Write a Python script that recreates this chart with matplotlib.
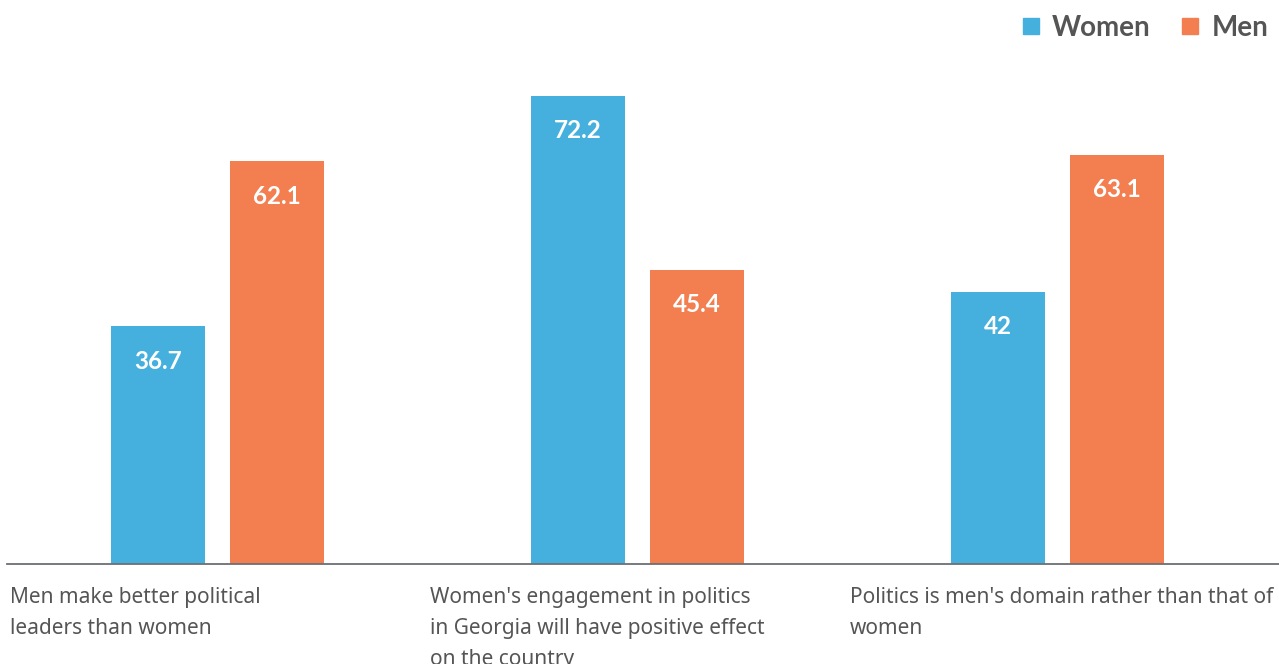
import numpy as np
import matplotlib
matplotlib.use('Agg')
import matplotlib.pyplot as plt
from matplotlib.lines import Line2D

categories = ["Men make better political\nleaders than women",
              "Women's engagement in politics\nin Georgia will have positive effect\non the country",
              "Politics is men's domain rather than that of\nwomen"]
women = [36.7, 72.2, 42]
men = [62.1, 45.4, 63.1]
value_labels_women = ["36.7", "72.2", "42"]
value_labels_men = ["62.1", "45.4", "63.1"]

colorWomen = '#45B0DD'
colorMen = '#F37E50'
textGrey = '#555555'

plt.rcParams['font.family'] = ['Noto Sans', 'DejaVu Sans']

fig = plt.figure(figsize=(12.79, 6.64), dpi=100)
ax = fig.add_axes([7/1279, 100/664, 1272/1279, 524/664])

x = np.arange(len(categories))
barWidth = 94/420

barsW = ax.bar(x - 60/420, women, barWidth, color=colorWomen)
barsM = ax.bar(x + 59/420, men, barWidth, color=colorMen)

for bars, labels in ((barsW, value_labels_women), (barsM, value_labels_men)):
    for b, lab in zip(bars, labels):
        ax.annotate(lab, (b.get_x() + b.get_width()/2, b.get_height()),
                    xytext=(0, -35), textcoords='offset pixels',
                    ha='center', va='center', color='white',
                    fontsize=17.5, fontweight='bold', family=['Lato', 'DejaVu Sans'])

ax.set_xlim(-0.502, 2.527)
ax.set_ylim(0, 524/6.482)

for side in ['top', 'right', 'left']:
    ax.spines[side].set_visible(False)
ax.spines['bottom'].set_color('#6b7075')
ax.spines['bottom'].set_linewidth(1.3)
ax.set_yticks([])
ax.set_xticks([])

# category labels, left aligned at each group's left edge
for i, cat in enumerate(categories):
    ax.annotate(cat, (i - 0.5, 0), xytext=(2, -23), textcoords='offset pixels',
                ha='left', va='top', color=textGrey, fontsize=15,
                linespacing=1.62, annotation_clip=False)

handles = [Line2D([], [], marker='s', linestyle='none', color=colorWomen, markersize=12),
           Line2D([], [], marker='s', linestyle='none', color=colorMen, markersize=12)]
fig.legend(handles, ['Women', 'Men'], loc='upper right', bbox_to_anchor=(1.011, 1.015),
           ncol=2, frameon=False, handlelength=0.8, handletextpad=0.35, columnspacing=1.05,
           prop={'family': 'Lato', 'size': 20, 'weight': 'bold'}, labelcolor=textGrey)

plt.savefig('out.png', dpi=100)
plt.close()
